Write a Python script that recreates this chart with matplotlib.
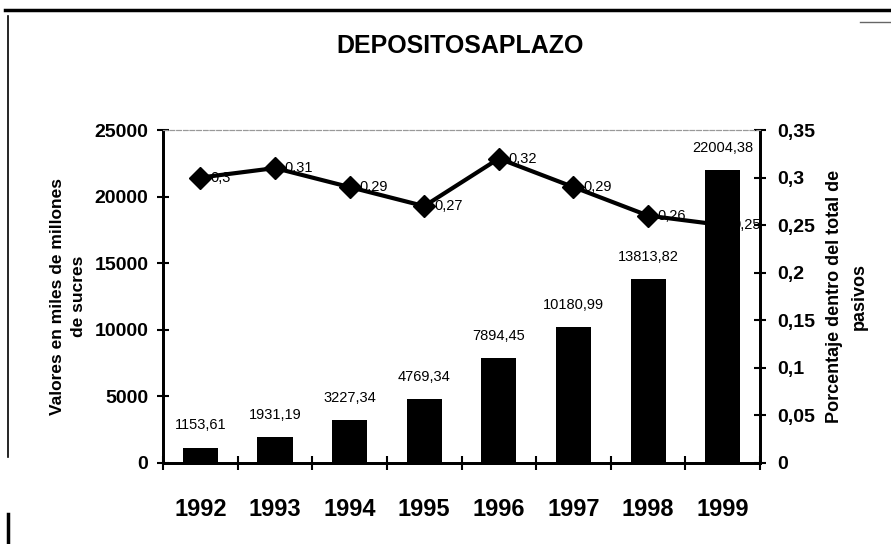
import matplotlib
matplotlib.use("Agg")
import matplotlib.pyplot as plt
from matplotlib.lines import Line2D
from matplotlib.ticker import FuncFormatter, FixedLocator

plt.rcParams['font.family'] = ['Liberation Sans', 'DejaVu Sans']

# Datos
years = ['1992', '1993', '1994', '1995', '1996', '1997', '1998', '1999']
depositos = [1153.61, 1931.19, 3227.34, 4769.34, 7894.45, 10180.99, 13813.82, 22004.38]
porcentaje = [0.30, 0.31, 0.29, 0.27, 0.32, 0.29, 0.26, 0.25]
left_ticks = [0, 5000, 10000, 15000, 20000, 25000]
right_ticks = [0, 0.05, 0.1, 0.15, 0.2, 0.25, 0.3, 0.35]


def coma(v, pos=None):
    return ('%g' % round(v, 2)).replace('.', ',')


fig = plt.figure(figsize=(8.91, 5.44), dpi=100)
ax = fig.add_axes([0.183, 0.149, 0.670, 0.612])
ax2 = ax.twinx()

x = list(range(len(years)))
ax.bar(x, depositos, width=0.47, color='black', zorder=2)
for xi, v in zip(x, depositos):
    ax.annotate(('%.2f' % v).replace('.', ','), (xi, v), xytext=(0, 11),
                textcoords='offset points', ha='center', va='bottom', fontsize=10.5)

ax2.plot(x, porcentaje, color='black', lw=3, marker='D', ms=11, zorder=3)
for xi, v in zip(x, porcentaje):
    ax2.annotate(coma(v), (xi, v), xytext=(7, 0), textcoords='offset points',
                 ha='left', va='center', fontsize=10.5)

ax.set_xlim(-0.5, len(years) - 0.5)
ax.set_ylim(0, 25000)
ax2.set_ylim(0, 0.35)

# ticks
ax.set_xticks(x)
ax.set_xticklabels(years, fontsize=17, fontweight='bold')
ax.tick_params(axis='x', which='major', length=0, pad=25)
ax.xaxis.set_minor_locator(FixedLocator([i - 0.5 for i in range(len(years) + 1)]))
ax.tick_params(axis='x', which='minor', direction='inout', length=10, width=1.5)

ax.set_yticks(left_ticks)
ax.set_yticklabels([str(t) for t in left_ticks], fontsize=14, fontweight='bold')
ax.tick_params(axis='y', direction='inout', length=9, width=1.5, pad=6)

ax2.yaxis.set_major_locator(FixedLocator(right_ticks))
ax2.yaxis.set_major_formatter(FuncFormatter(coma))
for lab in ax2.get_yticklabels():
    lab.set_fontsize(14)
    lab.set_fontweight('bold')
ax2.tick_params(axis='y', direction='inout', length=9, width=1.5, pad=8)

for a in (ax, ax2):
    a.spines['top'].set_color('#999999')
    a.spines['top'].set_linestyle((0, (4, 2)))
    a.spines['top'].set_linewidth(0.8)
    a.spines['left'].set_linewidth(2)
    a.spines['bottom'].set_linewidth(2)
    a.spines['right'].set_linewidth(2)

ax.set_ylabel('Valores en miles de millones\nde sucres', fontsize=12.5,
              fontweight='bold', labelpad=6, linespacing=1.55)
ax2.set_ylabel('Porcentaje dentro del total de\npasivos', fontsize=13,
               fontweight='bold', labelpad=8, linespacing=1.55)

fig.text(0.516, 0.915, 'DEPOSITOSAPLAZO', ha='center', va='center',
         fontsize=18, fontweight='bold')

# bordes del escaneo
fig.add_artist(Line2D([0.006, 1.0], [0.982, 0.982], transform=fig.transFigure,
                      color='black', lw=2.5))
fig.add_artist(Line2D([0.009, 0.009], [0.97, 0.16], transform=fig.transFigure,
                      color='black', lw=1.2))
fig.add_artist(Line2D([0.009, 0.009], [0.055, 0.0], transform=fig.transFigure,
                      color='black', lw=2.5))
fig.add_artist(Line2D([0.965, 1.0], [0.96, 0.96], transform=fig.transFigure,
                      color='#666666', lw=1))

fig.savefig('out.png', dpi=100)
